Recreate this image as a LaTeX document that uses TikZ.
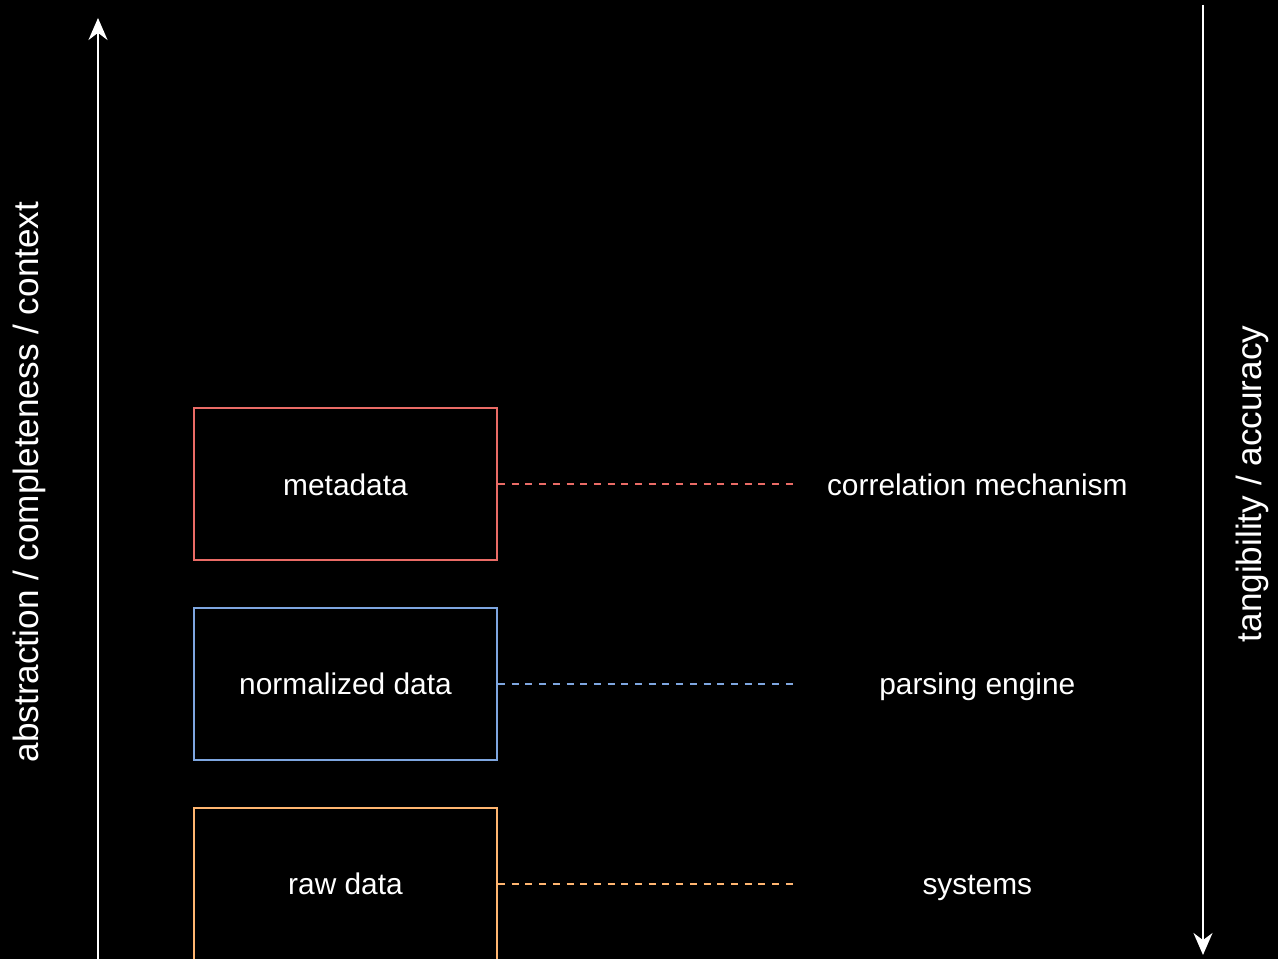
\documentclass[tikz,border=0pt]{standalone}
\usepackage{fontspec}
\setmainfont{Liberation Sans}
\usetikzlibrary{positioning}
\usetikzlibrary{arrows.meta}

\definecolor{metared}{HTML}{EA6B66}
\definecolor{normblue}{HTML}{7EA6E0}
\definecolor{raworange}{HTML}{FFB570}

\tikzset{
	layer/.style={draw=#1,line width=1.1pt,minimum width=6.06cm,minimum height=3.04cm,text=white,font=\fontsize{17}{20}\selectfont,text height=12.6pt,text depth=0pt},
	role/.style={minimum width=7.36cm,text=white,font=\fontsize{17}{20}\selectfont,text height=12.6pt,text depth=0pt},
	link/.style={draw=#1,line width=0.9pt,dash pattern=on 4pt off 3.8pt},
	axis/.style={draw=white,line width=1.1pt,-{Stealth[length=0.44cm,width=0.38cm]},fill=white},
	axislabel/.style={text=white,rotate=90,font=\fontsize{20}{24}\selectfont}
}

\begin{document}
\begin{tikzpicture}
		\fill[black] (0,0) rectangle (25.56,19.18);
		\useasboundingbox (0,0) rectangle (25.56,19.18);
		\node[layer=metared] (meta) at (6.91,9.5) {metadata};
		\node[layer=normblue,below=0.92cm of meta] (norm) {normalized data};
		\node[layer=raworange,below=0.92cm of norm] (raw) {raw data};
		\node[role,right=5.9cm of meta] (corr) {correlation mechanism};
		\node[role,right=5.9cm of norm] (parse) {parsing engine};
		\node[role,right=5.9cm of raw] (sys) {systems};
		\draw[link=metared] (meta) -- (corr);
		\draw[link=normblue] (norm) -- (parse);
		\draw[link=raworange] (raw) -- (sys);
		\coordinate (upfrom) at (1.96,0);
		\coordinate (upto) at (1.96,18.82);
		\coordinate (downfrom) at (24.06,19.08);
		\coordinate (downto) at (24.06,0.08);
		\draw[axis] (upfrom) -- (upto);
		\draw[axis] (downfrom) -- (downto);
		\node[axislabel] (abstr) at (0.58,9.54) {abstraction / completeness / context};
		\node[axislabel] (tang) at (25.04,9.5) {tangibility / accuracy};
	\end{tikzpicture}
\end{document}
